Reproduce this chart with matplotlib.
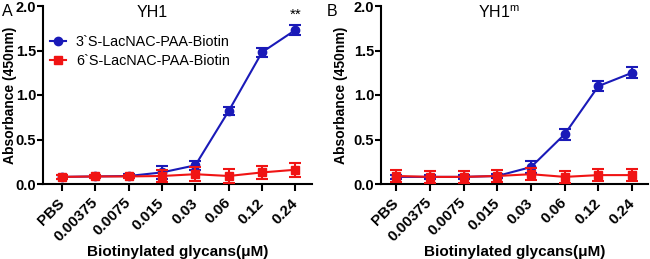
import matplotlib
matplotlib.use("Agg")
import matplotlib.pyplot as plt
from matplotlib.lines import Line2D

plt.rcParams['font.family'] = ['Liberation Sans', 'DejaVu Sans']

categories = ["PBS", "0.00375", "0.0075", "0.015", "0.03", "0.06", "0.12", "0.24"]

a_3s = [0.08, 0.085, 0.09, 0.13, 0.21, 0.82, 1.48, 1.73]
a_3s_err = [0.02, 0.02, 0.02, 0.07, 0.05, 0.05, 0.05, 0.06]
a_6s = [0.08, 0.085, 0.085, 0.09, 0.11, 0.09, 0.13, 0.16]
a_6s_err = [0.02, 0.02, 0.02, 0.07, 0.08, 0.08, 0.07, 0.08]

b_3s = [0.08, 0.08, 0.08, 0.09, 0.19, 0.56, 1.10, 1.25]
b_3s_err = [0.02, 0.02, 0.02, 0.02, 0.07, 0.06, 0.06, 0.06]
b_6s = [0.09, 0.08, 0.08, 0.09, 0.11, 0.08, 0.10, 0.10]
b_6s_err = [0.07, 0.07, 0.07, 0.07, 0.07, 0.07, 0.07, 0.07]

series_labels = ["3`S-LacNAC-PAA-Biotin", "6`S-LacNAC-PAA-Biotin"]

BLUE = '#1a1ab8'
RED = '#f01414'

fig = plt.figure(figsize=(6.5, 2.59), dpi=100)
axA = fig.add_axes([43/650, 1-184/259, 269/650, 178/259])
axB = fig.add_axes([381/650, 1-184/259, 267/650, 178/259])

def draw(ax, s3, e3, s6, e6, title, title_x, letter, letter_x, ylab_x, xlim, legend=False):
    x = list(range(len(categories)))
    ax.errorbar(x, s3, yerr=e3, color=BLUE, marker='o', ms=6, lw=1.5,
                capsize=4.5, capthick=1.5, elinewidth=1.5, zorder=3)
    ax.errorbar(x, s6, yerr=e6, color=RED, marker='s', ms=5.5, lw=1.5,
                capsize=4.5, capthick=1.5, elinewidth=1.5, zorder=4)
    ax.set_xlim(*xlim)
    ax.set_ylim(0, 2.0)
    ax.set_yticks([0.0, 0.5, 1.0, 1.5, 2.0])
    ax.set_yticklabels(["0.0", "0.5", "1.0", "1.5", "2.0"], fontweight='bold', fontsize=10.5)
    ax.set_xticks(x)
    ax.set_xticklabels(categories, rotation=45, ha='right', va='center',
                       rotation_mode='anchor', fontweight='bold', fontsize=11)
    for s in ['top', 'right']:
        ax.spines[s].set_visible(False)
    for s in ['left', 'bottom']:
        ax.spines[s].set_linewidth(1.5)
    ax.tick_params(width=1.5, length=5)
    ax.tick_params(axis='x', pad=7)
    ax.tick_params(axis='y', pad=1, length=4)
    ax.set_ylabel("Absorbance (450nm)", fontweight='bold', fontsize=10)
    ax.yaxis.set_label_coords(ylab_x, 0.5)
    ax.set_xlabel("Biotinylated glycans(\u03bcM)", fontweight='bold', fontsize=11)
    ax.xaxis.set_label_coords(0.5, -0.34)
    ax.text(title_x, 0.965, title, transform=ax.transAxes, fontsize=11.5,
            ha='center', va='center')
    fig.text(letter_x, 1 - 11/259, letter, fontsize=11.5, va='center')
    if legend:
        handles = [Line2D([], [], color=BLUE, marker='o', ms=6, lw=1.5),
                   Line2D([], [], color=RED, marker='s', ms=5.5, lw=1.5)]
        ax.legend(handles, series_labels, loc='upper left', bbox_to_anchor=(0.026, 0.835),
                  frameon=False, fontsize=10.4, handlelength=1.1, borderaxespad=0,
                  borderpad=0, labelspacing=0.35, handletextpad=0.7)

draw(axA, a_3s, a_3s_err, a_6s, a_6s_err, "YH1", 0.405, "A", 2/650, -0.097,
     (-0.57, 7.5), legend=True)
draw(axB, b_3s, b_3s_err, b_6s, b_6s_err, "YH1$^{\\mathregular{m}}$", 0.44, "B",
     327/650, -0.124, (-0.45, 7.47))
axA.text(7, a_3s[7] + a_3s_err[7] + 0.03, "**", ha='center', va='bottom', fontsize=11)

fig.savefig("out.png", dpi=100)
